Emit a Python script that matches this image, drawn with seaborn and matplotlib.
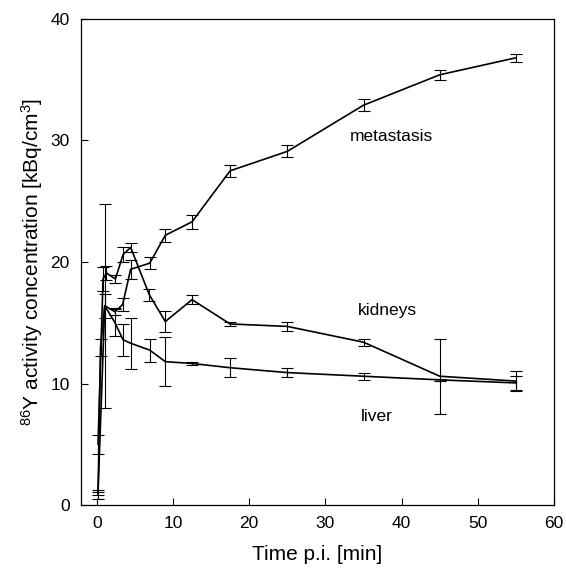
import pandas as pd
import matplotlib
matplotlib.use("Agg")
import matplotlib.pyplot as plt
import seaborn as sns

# time points [min], mean values and errors [kBq/cm3]
met_t = [0.17, 1.05, 2.4, 3.4, 4.45, 6.95, 9.0, 12.5, 17.5, 25, 35, 45, 55]
met_v = [1.0, 16.4, 15.9, 16.5, 19.4, 19.9, 22.2, 23.3, 27.5, 29.1, 32.9, 35.4, 36.8]
met_e = [0.2, 8.4, 0.3, 0.5, 0.8, 0.5, 0.55, 0.6, 0.5, 0.5, 0.5, 0.4, 0.35]

kid_t = [0.17, 0.83, 1.27, 2.45, 3.45, 4.45, 6.9, 9.0, 12.5, 17.5, 25, 35, 45, 55]
kid_v = [5.0, 18.6, 19.1, 18.6, 20.6, 21.2, 17.3, 15.1, 16.9, 14.9, 14.7, 13.4, 10.6, 10.2]
kid_e = [0.8, 1.0, 0.6, 0.3, 0.6, 0.4, 0.5, 0.9, 0.35, 0.15, 0.4, 0.3, 3.1, 0.8]

liv_t = [0.17, 0.5, 1.05, 2.4, 3.45, 4.5, 6.95, 9.0, 12.5, 17.5, 25, 35, 45, 55]
liv_v = [0.8, 13.0, 16.4, 15.0, 13.6, 13.3, 12.75, 11.8, 11.65, 11.3, 10.9, 10.6, 10.3, 10.05]
liv_e = [0.3, 0.7, 1.0, 1.1, 1.3, 2.1, 0.95, 2.0, 0.1, 0.8, 0.4, 0.3, 0.1, 0.6]

series = {
    "metastasis": (met_t, met_v, met_e),
    "kidneys": (kid_t, kid_v, kid_e),
    "liver": (liv_t, liv_v, liv_e),
}

# label positions in data coords
labels = {"metastasis": (38.6, 30.3), "kidneys": (38.2, 16.0), "liver": (36.7, 7.3)}

frames = []
for name, (t, v, e) in series.items():
    frames.append(pd.DataFrame({"time": t, "value": v, "err": e, "organ": name}))
df = pd.concat(frames, ignore_index=True)

sns.set_style("ticks", {"axes.edgecolor": "black", "text.color": "black",
                        "axes.labelcolor": "black", "xtick.color": "black",
                        "ytick.color": "black"})
plt.rcParams["font.family"] = ["Liberation Sans", "DejaVu Sans"]
plt.rcParams["mathtext.default"] = "regular"

fig = plt.figure(figsize=(5.66, 5.72), dpi=100)
ax = fig.add_axes([0.1426, 0.117, 0.8364, 0.85])

sns.lineplot(data=df, x="time", y="value", units="organ", estimator=None,
             color="black", linewidth=1.2, ax=ax, legend=False)

for name, sub in df.groupby("organ"):
    ax.errorbar(sub["time"], sub["value"], yerr=sub["err"], fmt="none",
                ecolor="black", elinewidth=0.8, capsize=4.5, capthick=0.8)

for name, (x, y) in labels.items():
    ax.text(x, y, name, ha="center", va="center", fontsize=12.5, color="black")

ax.set_xlim(-2.1, 60)
ax.set_ylim(0, 40)
ax.set_xticks(range(0, 61, 10))
ax.set_yticks(range(0, 41, 10))
ax.tick_params(direction="in", length=5, labelsize=12.5, width=0.8, pad=8,
               colors="black")
for s in ax.spines.values():
    s.set_linewidth(0.9)
    s.set_color("black")
    s.set_visible(True)

ax.set_xlabel("Time p.i. [min]", fontsize=15, labelpad=10)
ax.set_ylabel("$^{86}$Y activity concentration [kBq/cm$^{3}$]", fontsize=15, labelpad=4)

fig.savefig("out.png", dpi=100)
